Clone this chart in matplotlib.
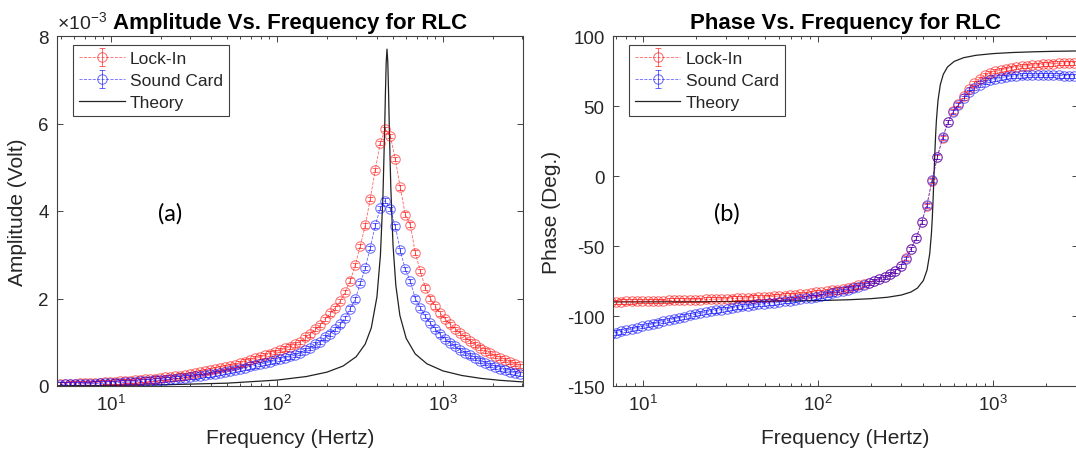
import numpy as np
import matplotlib
matplotlib.use('Agg')
import matplotlib.pyplot as plt
from matplotlib.ticker import LogLocator, NullFormatter

plt.rcParams['font.family'] = ['Liberation Sans', 'DejaVu Sans']
plt.rcParams['mathtext.fontset'] = 'custom'
plt.rcParams['mathtext.rm'] = 'Liberation Sans'
plt.rcParams['mathtext.it'] = 'Liberation Sans:italic'
plt.rcParams['mathtext.bf'] = 'Liberation Sans:bold'
plt.rcParams['axes.unicode_minus'] = False

# measured frequencies (Hz)
freq = [4.95, 5.31, 5.69, 6.10, 6.54, 7.01, 7.51, 8.05, 8.63, 9.25,
        9.91, 10.62, 11.39, 12.20, 13.08, 14.02, 15.02, 16.10, 17.26, 18.50,
        19.83, 21.25, 22.78, 24.41, 26.16, 28.04, 30.05, 32.21, 34.53, 37.01,
        39.66, 42.51, 45.56, 48.83, 52.34, 56.09, 60.12, 64.44, 69.06, 74.03,
        79.34, 85.04, 91.14, 97.68, 104.7, 112.2, 120.3, 128.9, 138.2, 148.1,
        158.7, 170.1, 182.3, 195.4, 209.5, 224.5, 240.6, 257.9, 276.4, 296.2,
        317.5, 340.3, 364.7, 390.9, 419.0, 449.0, 481.3, 515.8, 552.9, 592.6,
        635.1, 680.7, 729.6, 782.0, 838.2, 898.3, 962.8, 1032, 1106, 1185,
        1271, 1362, 1460, 1564, 1677, 1797, 1926, 2064, 2213, 2371,
        2542, 2724, 2920]

# amplitudes (mV)
amp_lockin = [0.045, 0.050, 0.053, 0.057, 0.061, 0.065, 0.070, 0.075, 0.080, 0.086,
              0.092, 0.099, 0.106, 0.113, 0.121, 0.130, 0.139, 0.149, 0.160, 0.171,
              0.183, 0.196, 0.210, 0.225, 0.240, 0.257, 0.274, 0.293, 0.313, 0.334,
              0.356, 0.380, 0.405, 0.430, 0.458, 0.486, 0.515, 0.560, 0.595, 0.630,
              0.665, 0.700, 0.740, 0.780, 0.820, 0.860, 0.900, 0.950, 1.01, 1.11,
              1.18, 1.30, 1.39, 1.53, 1.66, 1.79, 1.94, 2.15, 2.41, 2.76,
              3.20, 3.67, 4.28, 4.94, 5.56, 5.87, 5.72, 5.19, 4.54, 3.92,
              3.69, 3.05, 2.63, 2.25, 2.00, 1.82, 1.66, 1.53, 1.41, 1.31,
              1.21, 1.12, 1.03, 0.95, 0.88, 0.81, 0.75, 0.69, 0.64, 0.59,
              0.55, 0.50, 0.46]
amp_sound = [0.034, 0.037, 0.040, 0.043, 0.046, 0.049, 0.052, 0.056, 0.060, 0.064,
             0.069, 0.074, 0.079, 0.085, 0.091, 0.097, 0.104, 0.112, 0.120, 0.128,
             0.137, 0.147, 0.157, 0.168, 0.180, 0.193, 0.205, 0.220, 0.235, 0.250,
             0.267, 0.285, 0.304, 0.322, 0.343, 0.364, 0.386, 0.420, 0.446, 0.472,
             0.500, 0.525, 0.555, 0.585, 0.615, 0.645, 0.675, 0.710, 0.760, 0.820,
             0.870, 0.950, 1.01, 1.11, 1.20, 1.30, 1.41, 1.56, 1.77, 1.98,
             2.35, 2.70, 3.16, 3.67, 4.07, 4.24, 4.05, 3.65, 3.10, 2.67,
             2.40, 2.00, 1.79, 1.60, 1.44, 1.30, 1.18, 1.08, 0.99, 0.91,
             0.83, 0.76, 0.70, 0.64, 0.58, 0.53, 0.48, 0.44, 0.40, 0.36,
             0.33, 0.30, 0.27]
amp_err = 0.05  # mV

# phases (deg)
phase_lockin = [-90.0, -90.0, -89.9, -89.9, -89.8, -89.8, -89.7, -89.6, -89.6, -89.5,
                -89.4, -89.3, -89.2, -89.1, -89.0, -88.9, -88.8, -88.7, -88.6, -88.5,
                -88.4, -88.3, -88.2, -88.1, -88.0, -87.8, -87.7, -87.5, -87.4, -87.2,
                -87.0, -86.8, -86.6, -86.4, -86.2, -86.0, -85.7, -85.4, -85.1, -84.8,
                -84.4, -84.0, -83.6, -83.2, -82.7, -82.2, -81.7, -81.1, -80.5, -79.8,
                -79.0, -78.2, -77.3, -76.3, -75.1, -73.8, -72.3, -70.2, -67.6, -64.0,
                -58.8, -52.1, -44.5, -33.1, -21.2, -3.3, 13.4, 27.1, 38.4, 46.6,
                51.4, 56.9, 62.1, 66.5, 69.5, 71.8, 73.5, 74.8, 75.8, 76.6,
                77.3, 77.9, 78.4, 78.8, 79.2, 79.5, 79.8, 80.1, 80.3, 80.5,
                80.7, 80.9, 81.0]
phase_sound = [-116.0, -115.0, -114.2, -113.4, -112.6, -111.8, -111.0, -110.1, -109.2, -108.3,
               -107.4, -106.5, -105.6, -104.7, -103.8, -102.9, -102.0, -101.2, -100.4, -99.6,
               -98.8, -98.0, -97.3, -96.6, -96.0, -95.4, -94.8, -94.2, -93.7, -93.2,
               -92.7, -92.2, -91.7, -91.2, -90.8, -90.4, -90.0, -89.5, -89.0, -88.5,
               -88.0, -87.4, -86.8, -86.2, -85.5, -84.7, -83.9, -83.0, -82.1, -81.1,
               -80.1, -79.0, -77.8, -76.6, -75.2, -73.8, -72.2, -70.2, -67.9, -64.2,
               -59.0, -52.0, -44.0, -32.8, -20.6, -2.6, 13.9, 27.6, 38.3, 46.0,
               50.6, 55.5, 59.8, 62.8, 65.2, 67.0, 68.4, 69.5, 70.3, 70.9,
               71.3, 71.6, 71.8, 71.9, 72.0, 72.0, 72.0, 71.9, 71.9, 71.8,
               71.7, 71.6, 71.5]
phase_err = 1.5  # deg

# theory curve
theory_freq = [4.7, 10, 20, 50, 100, 150, 200, 250, 300, 340,
               370, 400, 420, 435, 445, 450, 455, 460, 465, 470,
               475, 485, 500, 520, 550, 600, 680, 800, 1000, 1300,
               1700, 2200, 3100]
theory_amp = [0.006, 0.013, 0.026, 0.065, 0.135, 0.216, 0.317, 0.456, 0.670, 0.958,
              1.329, 2.037, 2.995, 4.364, 5.832, 6.685, 7.407, 7.70, 7.413, 6.721,
              5.912, 4.525, 3.222, 2.300, 1.612, 1.091, 0.735, 0.508, 0.345, 0.240,
              0.173, 0.130, 0.090]
theory_phase = [-89.95, -89.90, -89.81, -89.52, -88.99, -88.39, -87.64, -86.60, -85.01, -82.86,
                -80.06, -74.66, -67.11, -55.48, -40.76, -29.74, -15.86, 0.0, 15.70, 29.21,
                39.84, 54.00, 65.26, 72.62, 77.92, 81.86, 84.52, 86.22, 87.43, 88.22,
                88.71, 89.04, 89.33]

txt = '#262626'
W, H = 1076, 456
fig = plt.figure(figsize=(W / 100, H / 100), dpi=100)
ax1 = fig.add_axes([57 / W, 69 / H, 466 / W, 350 / H])
ax2 = fig.add_axes([613 / W, 69 / H, 465 / W, 350 / H])

eb = dict(fmt='o', ls='--', mfc='none', ms=6.8, mew=0.7, lw=0.6,
          elinewidth=0.7, capsize=2.2, capthick=0.7, alpha=0.6)

f = np.array(freq)
h1 = ax1.errorbar(f, np.array(amp_lockin) * 1e-3, yerr=amp_err * 1e-3, color='red', label='Lock-In', **eb)
h2 = ax1.errorbar(f, np.array(amp_sound) * 1e-3, yerr=amp_err * 1e-3, color='blue', label='Sound Card', **eb)
h3, = ax1.plot(theory_freq, np.array(theory_amp) * 1e-3, color='#222222', lw=0.9, label='Theory')

g1 = ax2.errorbar(f, phase_lockin, yerr=phase_err, color='red', label='Lock-In', **eb)
g2 = ax2.errorbar(f, phase_sound, yerr=phase_err, color='blue', label='Sound Card', **eb)
g3, = ax2.plot(theory_freq, theory_phase, color='#222222', lw=0.9, label='Theory')

for ax, hs in ((ax1, [h1, h2, h3]), (ax2, [g1, g2, g3])):
    ax.set_xscale('log')
    ax.xaxis.set_minor_locator(LogLocator(base=10, subs=np.arange(2, 10)))
    ax.xaxis.set_minor_formatter(NullFormatter())
    ax.tick_params(which='both', direction='in', top=True, right=True,
                   colors=txt, labelsize=13.5, width=0.6)
    ax.tick_params(which='major', length=4.5, pad=6)
    ax.tick_params(which='minor', length=2.5)
    for s in ax.spines.values():
        s.set_color('#404040')
        s.set_linewidth(0.8)
    ax.set_xlabel('Frequency (Hertz)', fontsize=15, color=txt)
    ax.xaxis.set_label_coords(0.5, -0.12)
    leg = ax.legend(handles=hs, labels=['Lock-In', 'Sound Card', 'Theory'],
                    loc='upper left', fontsize=12.5, frameon=True, fancybox=False,
                    edgecolor='#404040', framealpha=1, handlelength=2.6,
                    labelspacing=0.4, borderpad=0.35, handletextpad=0.3,
                    bbox_to_anchor=(0.035, 0.975), borderaxespad=0)
    leg.get_frame().set_linewidth(0.8)
    for t in leg.get_texts():
        t.set_color(txt)

ax1.set_xlim(4.73, 3034)
ax1.set_ylim(0, 8e-3)
ax1.set_yticks([0, 2e-3, 4e-3, 6e-3, 8e-3])
ax1.set_yticklabels(['0', '2', '4', '6', '8'])
ax1.set_ylabel('Amplitude (Volt)', fontsize=15, color=txt)
ax1.yaxis.set_label_coords(-0.064, 0.5)
ax1.set_title('Amplitude Vs. Frequency for RLC', fontsize=16, fontweight='bold', pad=6)
ax1.text(0, 1.012, r'$\times10^{-3}$', transform=ax1.transAxes, ha='left', va='bottom',
         fontsize=14, color=txt)
ax1.text(0.2425, 0.494, '(a)', transform=ax1.transAxes, ha='center', va='center',
         fontsize=17, family=['Lato', 'DejaVu Sans'])

ax2.set_xlim(6.74, 3060)
ax2.set_ylim(-150, 100)
ax2.set_yticks([-150, -100, -50, 0, 50, 100])
ax2.set_ylabel('Phase (Deg.)', fontsize=15, color=txt)
ax2.yaxis.set_label_coords(-0.112, 0.5)
ax2.set_title('Phase Vs. Frequency for RLC', fontsize=16, fontweight='bold', pad=6)
ax2.text(0.245, 0.494, '(b)', transform=ax2.transAxes, ha='center', va='center',
         fontsize=17, family=['Lato', 'DejaVu Sans'])

fig.savefig('out.png', dpi=100)
